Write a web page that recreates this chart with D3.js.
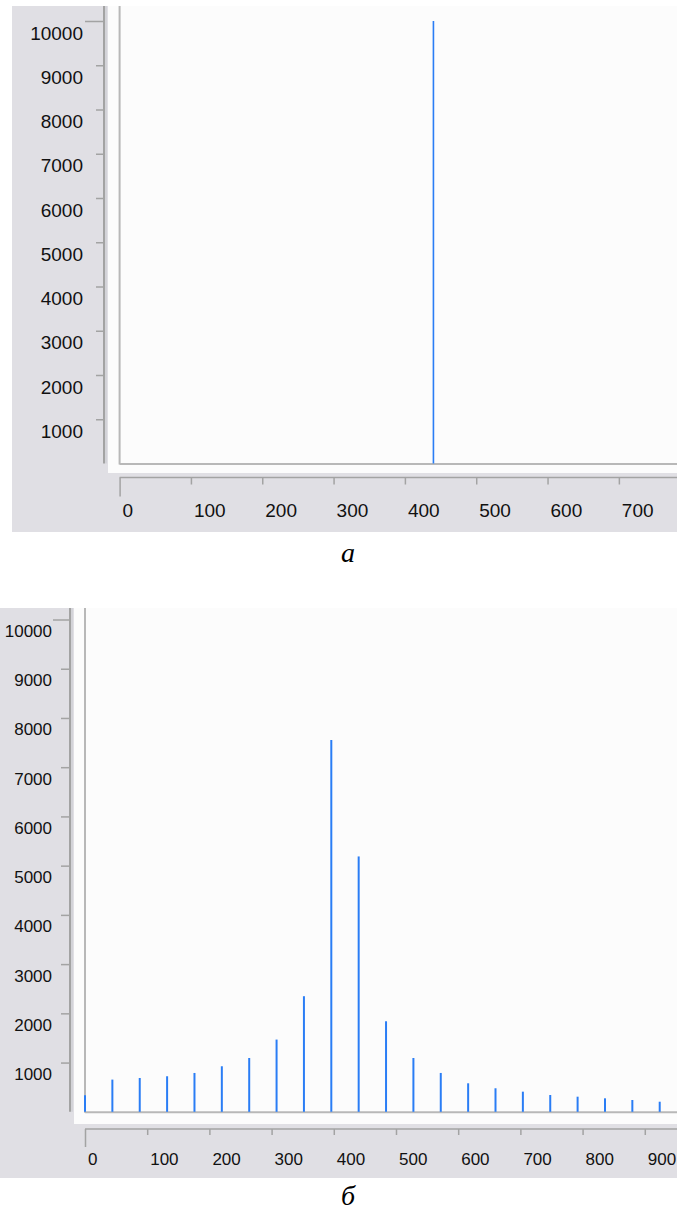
<!DOCTYPE html>
<html>
<head>
<meta charset="utf-8">
<script src="https://cdn.jsdelivr.net/npm/d3@7"></script>
<style>
  html, body { margin: 0; padding: 0; background: #ffffff; }
  svg { display: block; }
  .tick text { font-family: "Liberation Sans", Arial, sans-serif; fill: #111111; }
  .caption { font-family: "Liberation Serif", "Times New Roman", serif; font-style: italic; fill: #000; }
</style>
</head>
<body>
<svg id="chart" width="677" height="1212"></svg>
<script>
// Panel (а): a single spectral line
const lineA_x = [440];
const lineA_y = [10000];

// Panel (б): spectrum of discrete components
const specB_x = [0, 44, 88, 132, 176, 220, 264, 308, 352, 396, 440, 484, 528, 572, 616, 660, 704, 748, 792, 836, 880, 924];
const specB_y = [335, 654, 687, 722, 789, 925, 1093, 1467, 2348, 7551, 5187, 1839, 1093, 789, 579, 478, 409, 341, 307, 274, 240, 205];

// Axis ticks
const yTicks = [1000, 2000, 3000, 4000, 5000, 6000, 7000, 8000, 9000, 10000];
const xTicksA = [0, 100, 200, 300, 400, 500, 600, 700];
const xTicksB = [0, 100, 200, 300, 400, 500, 600, 700, 800, 900];

const svg = d3.select("#chart");

const GRAY = "#e0dfe4";
const PLOT_BG = "#fcfcfc";
const AXIS = "#a3a3a3";
const BORDER = "#b8b8b8";
const BLUE = "#2a7df5";

function panel(cfg) {
  const g = svg.append("g");
  // window-style backgrounds
  g.append("rect").attr("x", cfg.grayX).attr("y", cfg.top).attr("width", 677 - cfg.grayX)
    .attr("height", cfg.grayBottom - cfg.top).attr("fill", GRAY);
  g.append("rect").attr("x", cfg.whiteX).attr("y", cfg.top).attr("width", 677 - cfg.whiteX)
    .attr("height", cfg.whiteBottom - cfg.top).attr("fill", PLOT_BG);

  const x = d3.scaleLinear().domain([0, cfg.xMax]).range([cfg.plotLeft, 677]);
  const y = d3.scaleLinear().domain([0, 10000]).range([cfg.baseY, cfg.y10k]);

  // plot frame (left and bottom)
  g.append("line").attr("x1", cfg.plotLeft).attr("x2", cfg.plotLeft)
    .attr("y1", cfg.top).attr("y2", cfg.baseY + 1).attr("stroke", BORDER).attr("stroke-width", 2);
  g.append("line").attr("x1", cfg.plotLeft).attr("x2", 677)
    .attr("y1", cfg.baseY + 0.5).attr("y2", cfg.baseY + 0.5).attr("stroke", BORDER).attr("stroke-width", 2);

  // vertical axis
  g.append("line").attr("x1", cfg.yAxisX).attr("x2", cfg.yAxisX)
    .attr("y1", cfg.top).attr("y2", cfg.baseY).attr("stroke", AXIS).attr("stroke-width", 2);
  g.append("line").attr("x1", cfg.yAxisX + 2).attr("x2", cfg.yAxisX + 2)
    .attr("y1", cfg.top).attr("y2", cfg.baseY).attr("stroke", "#cfcfd4").attr("stroke-width", 1.5);
  const ya = g.append("g").attr("transform", `translate(${cfg.yAxisX - 1},0)`)
    .call(d3.axisLeft(y).tickValues(yTicks).tickSize(cfg.yTick).tickSizeOuter(0).tickFormat(d3.format("d")));
  ya.select(".domain").remove();
  ya.selectAll(".tick line").attr("stroke", AXIS).attr("stroke-width", 1.5)
    .attr("x2", d => d === 10000 ? -cfg.yTickLong : -cfg.yTick);
  ya.selectAll(".tick text").attr("font-size", cfg.fs).attr("x", cfg.yLabelX - cfg.yAxisX + 1)
    .attr("dy", "0").attr("y", cfg.yLabelDy);

  // horizontal axis (below plot area)
  g.append("line").attr("x1", cfg.plotLeft).attr("x2", 677)
    .attr("y1", cfg.xAxisY).attr("y2", cfg.xAxisY).attr("stroke", AXIS).attr("stroke-width", 1.5);
  const xa = g.append("g").attr("transform", `translate(0,${cfg.xAxisY})`)
    .call(d3.axisBottom(x).tickValues(cfg.xTicks).tickSize(cfg.xTick).tickSizeOuter(0).tickFormat(d3.format("d")));
  xa.select(".domain").remove();
  xa.selectAll(".tick line").attr("stroke", AXIS).attr("stroke-width", 1.5)
    .attr("y2", d => d === 0 ? cfg.xTickLong : cfg.xTick);
  xa.selectAll(".tick text").attr("font-size", cfg.fs).attr("text-anchor", "start")
    .attr("x", 2.5).attr("dy", "0").attr("y", cfg.xLabelDy);

  // spectral lines
  g.append("g").selectAll("line").data(cfg.xs).join("line")
    .attr("x1", d => x(d)).attr("x2", d => x(d))
    .attr("y1", y(0)).attr("y2", (d, i) => y(cfg.ys[i]))
    .attr("stroke", BLUE).attr("stroke-width", cfg.barW);

  // caption
  g.append("text").attr("class", "caption").attr("x", 348).attr("y", cfg.capY)
    .attr("text-anchor", "middle").attr("font-size", 28).text(cfg.caption);
}

panel({
  top: 6, grayX: 12, grayBottom: 532, whiteX: 108, whiteBottom: 473,
  plotLeft: 119.6, xMax: 781.5, baseY: 463.5, y10k: 21,
  yAxisX: 104, yTick: 7, yTickLong: 18, yLabelX: 83, yLabelDy: 18,
  xAxisY: 477.5, xTick: 7, xTickLong: 19, xLabelDy: 39, xTicks: xTicksA,
  fs: 19, xs: lineA_x, ys: lineA_y, barW: 1.6, caption: "а", capY: 562
});

panel({
  top: 608, grayX: 0, grayBottom: 1178, whiteX: 74, whiteBottom: 1124,
  plotLeft: 85, xMax: 951.8, baseY: 1111.8, y10k: 619.5,
  yAxisX: 70, yTick: 8, yTickLong: 16, yLabelX: 52, yLabelDy: 17,
  xAxisY: 1129, xTick: 6, xTickLong: 18, xLabelDy: 36, xTicks: xTicksB,
  fs: 17, xs: specB_x, ys: specB_y, barW: 2, caption: "б", capY: 1205
});
</script>
</body>
</html>
